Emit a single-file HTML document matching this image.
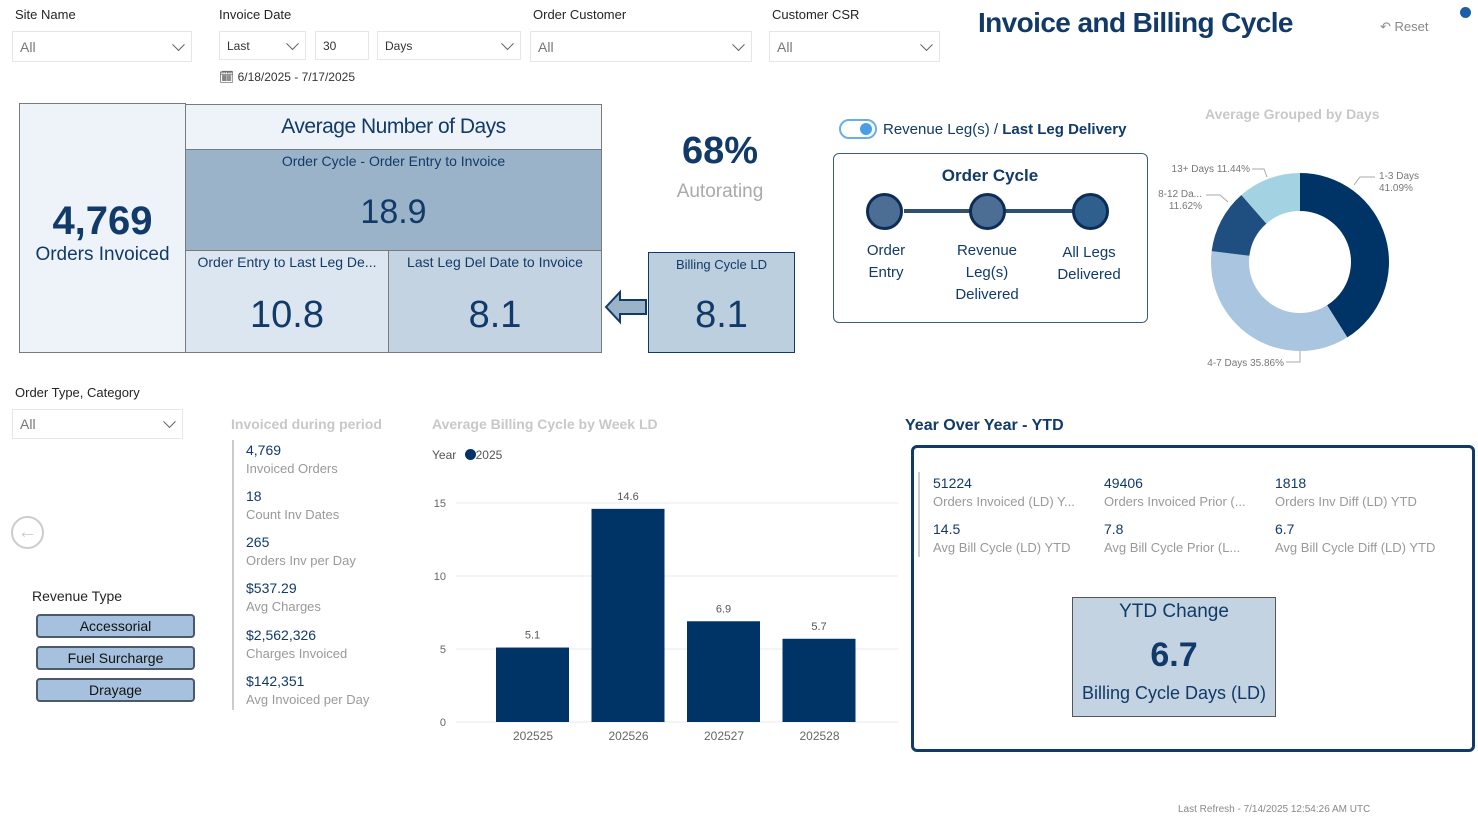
<!DOCTYPE html>
<html><head><meta charset="utf-8">
<style>
*{box-sizing:border-box;margin:0;padding:0}
body{width:1478px;height:823px;background:#fff;font-family:"Liberation Sans",sans-serif;position:relative;overflow:hidden;color:#252423}
.a{position:absolute}
.lbl{font-size:13px;color:#252423}
.dd{position:absolute;border:1px solid #e6e6e6;background:#fff;font-size:14px;color:#777;padding-left:7px;display:flex;align-items:center}
.dd .chev{position:absolute;right:8px;top:50%;width:9px;height:9px;border-right:1.5px solid #666;border-bottom:1.5px solid #666;transform:translateY(-75%) rotate(45deg)}
.navy{color:#123a68}
.cell{position:absolute;border:1px solid #7a7a7a;text-align:center;color:#123a68}
.stat{position:absolute;left:246px;font-size:14px}
.stat b{font-weight:normal;color:#123a68;display:block;margin-bottom:2px}
.stat span{color:#999;font-size:13px}
.pill{position:absolute;left:36px;width:159px;height:24px;background:#a5c1de;border:2px solid #4a5a6e;border-radius:4px;font-size:14px;text-align:center;line-height:20px;color:#111}
.ytd{position:absolute;font-size:14px}
.ytd b{font-weight:normal;color:#123a68;display:block;margin-bottom:2px}
.ytd span{color:#999;font-size:13px}
</style></head><body>
<div class="a lbl" style="left:15px;top:7px">Site Name</div>
<div class="dd" style="left:12px;top:31px;width:180px;height:31px">All<i class="chev"></i></div>
<div class="a lbl" style="left:219px;top:7px">Invoice Date</div>
<div class="dd" style="left:219px;top:31px;width:87px;height:29px;font-size:12px;color:#333">Last<i class="chev"></i></div>
<div class="dd" style="left:315px;top:31px;width:54px;height:29px;font-size:12px;color:#333">30</div>
<div class="dd" style="left:377px;top:31px;width:144px;height:29px;font-size:12px;color:#333">Days<i class="chev"></i></div>
<div class="a" style="left:219px;top:70px;font-size:12px;color:#333">&#128467; 6/18/2025 - 7/17/2025</div>
<div class="a lbl" style="left:533px;top:7px">Order Customer</div>
<div class="dd" style="left:530px;top:31px;width:222px;height:31px">All<i class="chev"></i></div>
<div class="a lbl" style="left:772px;top:7px">Customer CSR</div>
<div class="dd" style="left:769px;top:31px;width:171px;height:31px">All<i class="chev"></i></div>
<div class="a" style="left:978px;top:7px;font-size:28px;font-weight:bold;color:#123a68;letter-spacing:-0.6px">Invoice and Billing Cycle</div>
<div class="a" style="left:1380px;top:19px;font-size:13px;color:#888">&#8630; Reset</div>
<div class="a" style="left:1460px;top:7px;width:11px;height:11px;border-radius:50%;background:#1c5fa8"></div>

<div class="cell" style="left:19px;top:103px;width:167px;height:250px;background:#eef3f9">
<div style="margin-top:95px;font-size:40px;font-weight:bold">4,769</div><div style="font-size:19px;margin-top:0px">Orders Invoiced</div></div>
<div class="cell" style="left:185px;top:104px;width:417px;height:46px;background:#eef3fa;font-size:21px;line-height:44px;letter-spacing:-0.5px">Average Number of Days</div>
<div class="cell" style="left:185px;top:149px;width:417px;height:102px;background:#9ab3c9">
<div style="font-size:14px;margin-top:3px">Order Cycle - Order Entry to Invoice</div><div style="font-size:34px;margin-top:24px">18.9</div></div>
<div class="cell" style="left:185px;top:250px;width:204px;height:103px;background:#dce6f0">
<div style="font-size:14px;margin-top:3px">Order Entry to Last Leg De...</div><div style="font-size:38px;margin-top:24px">10.8</div></div>
<div class="cell" style="left:388px;top:250px;width:214px;height:103px;background:#c3d3e1">
<div style="font-size:14px;margin-top:3px">Last Leg Del Date to Invoice</div><div style="font-size:38px;margin-top:24px">8.1</div></div>
<svg class="a" style="left:604px;top:289px" width="44" height="36"><polygon points="2,18 16,3 16,11 42,11 42,25 16,25 16,33" fill="#9ab3c9" stroke="#123a68" stroke-width="2"/></svg>
<div class="cell" style="left:648px;top:252px;width:147px;height:101px;background:#bccfdf;border-color:#123a68">
<div style="font-size:13px;margin-top:4px">Billing Cycle LD</div><div style="font-size:38px;margin-top:22px">8.1</div></div>
<div class="a navy" style="left:640px;top:130px;width:160px;text-align:center;font-size:38px;font-weight:bold">68%</div>
<div class="a" style="left:640px;top:181px;width:160px;text-align:center;font-size:19px;color:#aaa">Autorating</div>

<div class="a" style="left:839px;top:119px;width:38px;height:20px;border-radius:10px;border:2px solid #6aaee8;background:#fff"><div style="position:absolute;right:3px;top:2px;width:12px;height:12px;border-radius:50%;background:#4a9ee8"></div></div>
<div class="a" style="left:883px;top:121px;font-size:15px;color:#123a68">Revenue Leg(s) / <b>Last Leg Delivery</b></div>
<div class="a" style="left:833px;top:153px;width:315px;height:170px;border:1.5px solid #3a5a80;border-radius:6px">
<div class="a navy" style="left:0;width:312px;top:12px;text-align:center;font-size:17px;font-weight:bold">Order Cycle</div>
<div class="a" style="left:70px;top:55px;width:190px;height:4px;background:#2e5170"></div>
<div class="a" style="left:32px;top:39px;width:37px;height:37px;border-radius:50%;background:#4d6e94;border:3px solid #0c2d57"></div>
<div class="a" style="left:135px;top:39px;width:37px;height:37px;border-radius:50%;background:#4d6e94;border:3px solid #0c2d57"></div>
<div class="a" style="left:238px;top:39px;width:37px;height:37px;border-radius:50%;background:#2f5f8c;border:3px solid #0c2d57"></div>
<div class="a" style="left:2px;top:86px;width:100px;text-align:center;font-size:15px;line-height:22px;color:#123a68">Order<br>Entry</div>
<div class="a" style="left:103px;top:86px;width:100px;text-align:center;font-size:15px;line-height:22px;color:#123a68">Revenue<br>Leg(s)<br>Delivered</div>
<div class="a" style="left:205px;top:88px;width:100px;text-align:center;font-size:15px;line-height:22px;color:#123a68">All Legs<br>Delivered</div>
</div>

<div class="a" style="left:1205px;top:106px;font-size:14px;font-weight:bold;color:#c8c8c8">Average Grouped by Days</div>
<svg class="a" id="donut" style="left:1140px;top:150px" width="338" height="230"></svg>

<div class="a lbl" style="left:15px;top:385px">Order Type, Category</div>
<div class="dd" style="left:12px;top:409px;width:171px;height:30px">All<i class="chev"></i></div>
<div class="a" style="left:11px;top:516px;width:33px;height:33px;border-radius:50%;border:2px solid #ccc;color:#ccc;font-size:20px;text-align:center;line-height:28px">&#8592;</div>
<div class="a" style="left:32px;top:588px;font-size:14px">Revenue Type</div>
<div class="pill" style="top:614px">Accessorial</div>
<div class="pill" style="top:646px">Fuel Surcharge</div>
<div class="pill" style="top:678px">Drayage</div>

<div class="a" style="left:231px;top:416px;font-size:14px;font-weight:bold;color:#c8c8c8">Invoiced during period</div>
<div class="a" style="left:232px;top:440px;width:2px;height:270px;background:#ccc"></div>
<div class="stat" style="top:442px"><b>4,769</b><span>Invoiced Orders</span></div>
<div class="stat" style="top:488px"><b>18</b><span>Count Inv Dates</span></div>
<div class="stat" style="top:534px"><b>265</b><span>Orders Inv per Day</span></div>
<div class="stat" style="top:580px"><b>$537.29</b><span>Avg Charges</span></div>
<div class="stat" style="top:627px"><b>$2,562,326</b><span>Charges Invoiced</span></div>
<div class="stat" style="top:673px"><b>$142,351</b><span>Avg Invoiced per Day</span></div>

<div class="a" style="left:432px;top:416px;font-size:14px;font-weight:bold;color:#c8c8c8">Average Billing Cycle by Week LD</div>
<div class="a" style="left:432px;top:448px;font-size:12px;color:#555">Year <span style="display:inline-block;width:11px;height:11px;border-radius:50%;background:#003366;vertical-align:-1px;margin-left:5px"></span>2025</div>
<svg class="a" id="bars" style="left:420px;top:480px" width="480" height="270"></svg>

<div class="a navy" style="left:905px;top:417px;font-size:16px;font-weight:bold">Year Over Year - YTD</div>
<div class="a" style="left:911px;top:445px;width:564px;height:307px;border:3px solid #123a68;border-radius:6px"></div>
<div class="a" style="left:918px;top:472px;width:2px;height:85px;background:#ccc"></div>
<div class="ytd" style="left:933px;top:475px"><b>51224</b><span>Orders Invoiced (LD) Y...</span></div>
<div class="ytd" style="left:1104px;top:475px"><b>49406</b><span>Orders Invoiced Prior (...</span></div>
<div class="ytd" style="left:1275px;top:475px"><b>1818</b><span>Orders Inv Diff (LD) YTD</span></div>
<div class="ytd" style="left:933px;top:521px"><b>14.5</b><span>Avg Bill Cycle (LD) YTD</span></div>
<div class="ytd" style="left:1104px;top:521px"><b>7.8</b><span>Avg Bill Cycle Prior (L...</span></div>
<div class="ytd" style="left:1275px;top:521px"><b>6.7</b><span>Avg Bill Cycle Diff (LD) YTD</span></div>
<div class="cell" style="left:1072px;top:597px;width:204px;height:120px;background:#c3d3e1;border-color:#555">
<div style="font-size:19px;margin-top:3px">YTD Change</div><div style="font-size:34px;font-weight:bold;margin-top:13px">6.7</div><div style="font-size:18px;margin-top:8px">Billing Cycle Days (LD)</div></div>
<div class="a" style="left:1178px;top:804px;font-size:10px;color:#888">Last Refresh - 7/14/2025 12:54:26 AM UTC</div>

<script>
const NS='http://www.w3.org/2000/svg';
function mk(p,t,a){const e=document.createElementNS(NS,t);for(const k in a)e.setAttribute(k,a[k]);p.appendChild(e);return e;}
const weeks=['202525','202526','202527','202528'];
const billingValues=[5.1,14.6,6.9,5.7];
const yTicks=[0,5,10,15];
const bs=document.getElementById('bars');
const y0=242, yPerUnit=14.6, band=95.5;
const yScale=v=>y0-v*yPerUnit;
yTicks.forEach(t=>{
 const l=mk(bs,'line',{x1:36,x2:478,y1:yScale(t),y2:yScale(t),stroke:'#e8e8e8'});
 
 
 const tx=mk(bs,'text',{x:26,y:yScale(t)+4,'text-anchor':'end','font-size':11,fill:'#666'});tx.textContent=t;
 
 
});
weeks.forEach((w,i)=>{
 const bx=76+band*i;
 const r=mk(bs,'rect',{x:bx,y:yScale(billingValues[i]),width:73,height:billingValues[i]*yPerUnit,fill:'#003366'});
 
 
 const v=mk(bs,'text',{x:bx+36.5,y:yScale(billingValues[i])-9,'text-anchor':'middle','font-size':11,fill:'#555'});v.textContent=billingValues[i];
 
 
 const c=mk(bs,'text',{x:bx+37,y:260,'text-anchor':'middle','font-size':12,fill:'#666'});c.textContent=w;
 
 
});
const dayGroups=['1-3 Days','4-7 Days','8-12 Da...','13+ Days'];
const dayShares=[41.09,35.86,11.62,11.44];
const dayColors=['#003366','#a9c5e0','#1f4e80','#a3d3e3'];
const ds=document.getElementById('donut');
const cx=160,cy=112,R=89,r=51;
let acc=0;const tot=dayShares.reduce((a,b)=>a+b,0);
function pt(a,rad){return [cx+rad*Math.sin(a),cy-rad*Math.cos(a)];}
dayShares.forEach((v,i)=>{
 const a0=acc/tot*2*Math.PI;acc+=v;const a1=acc/tot*2*Math.PI;
 const lg=(a1-a0)>Math.PI?1:0;
 const p1=pt(a0,R),p2=pt(a1,R),p3=pt(a1,r),p4=pt(a0,r);
 const p=mk(ds,'path',{d:`M${p1}A${R},${R} 0 ${lg} 1 ${p2}L${p3}A${r},${r} 0 ${lg} 0 ${p4}Z`,fill:dayColors[i]});
 
 
});
// leader lines
[['M214,35 L220,27 L235,27'],['M160,201 L160,212 L146,212'],['M88,52 L80,45 L66,45'],['M127,27 L124,19 L112,19']].forEach(d=>{
 const l=mk(ds,'path',{d:d[0],fill:'none',stroke:'#aaa','stroke-width':1});
 
 
});
const lab=[[239,25,'start',dayGroups[0],dayShares[0]+'%',1],[144,212,'end',dayGroups[1]+' '+dayShares[1]+'%','',0],[62,43,'end',dayGroups[2],dayShares[2]+'%',1],[110,18,'end',dayGroups[3]+' '+dayShares[3]+'%','',0]];
lab.forEach(l=>{
 const t=mk(ds,'text',{x:l[0],y:l[1]+4,'text-anchor':l[2],'font-size':10,fill:'#777'});t.textContent=l[3];
 
 
 if(l[5]){const t2=mk(ds,'text',{x:l[0],y:l[1]+16,'text-anchor':l[2],'font-size':10,fill:'#777'});t2.textContent=l[4];}
});
</script>
</body></html>
